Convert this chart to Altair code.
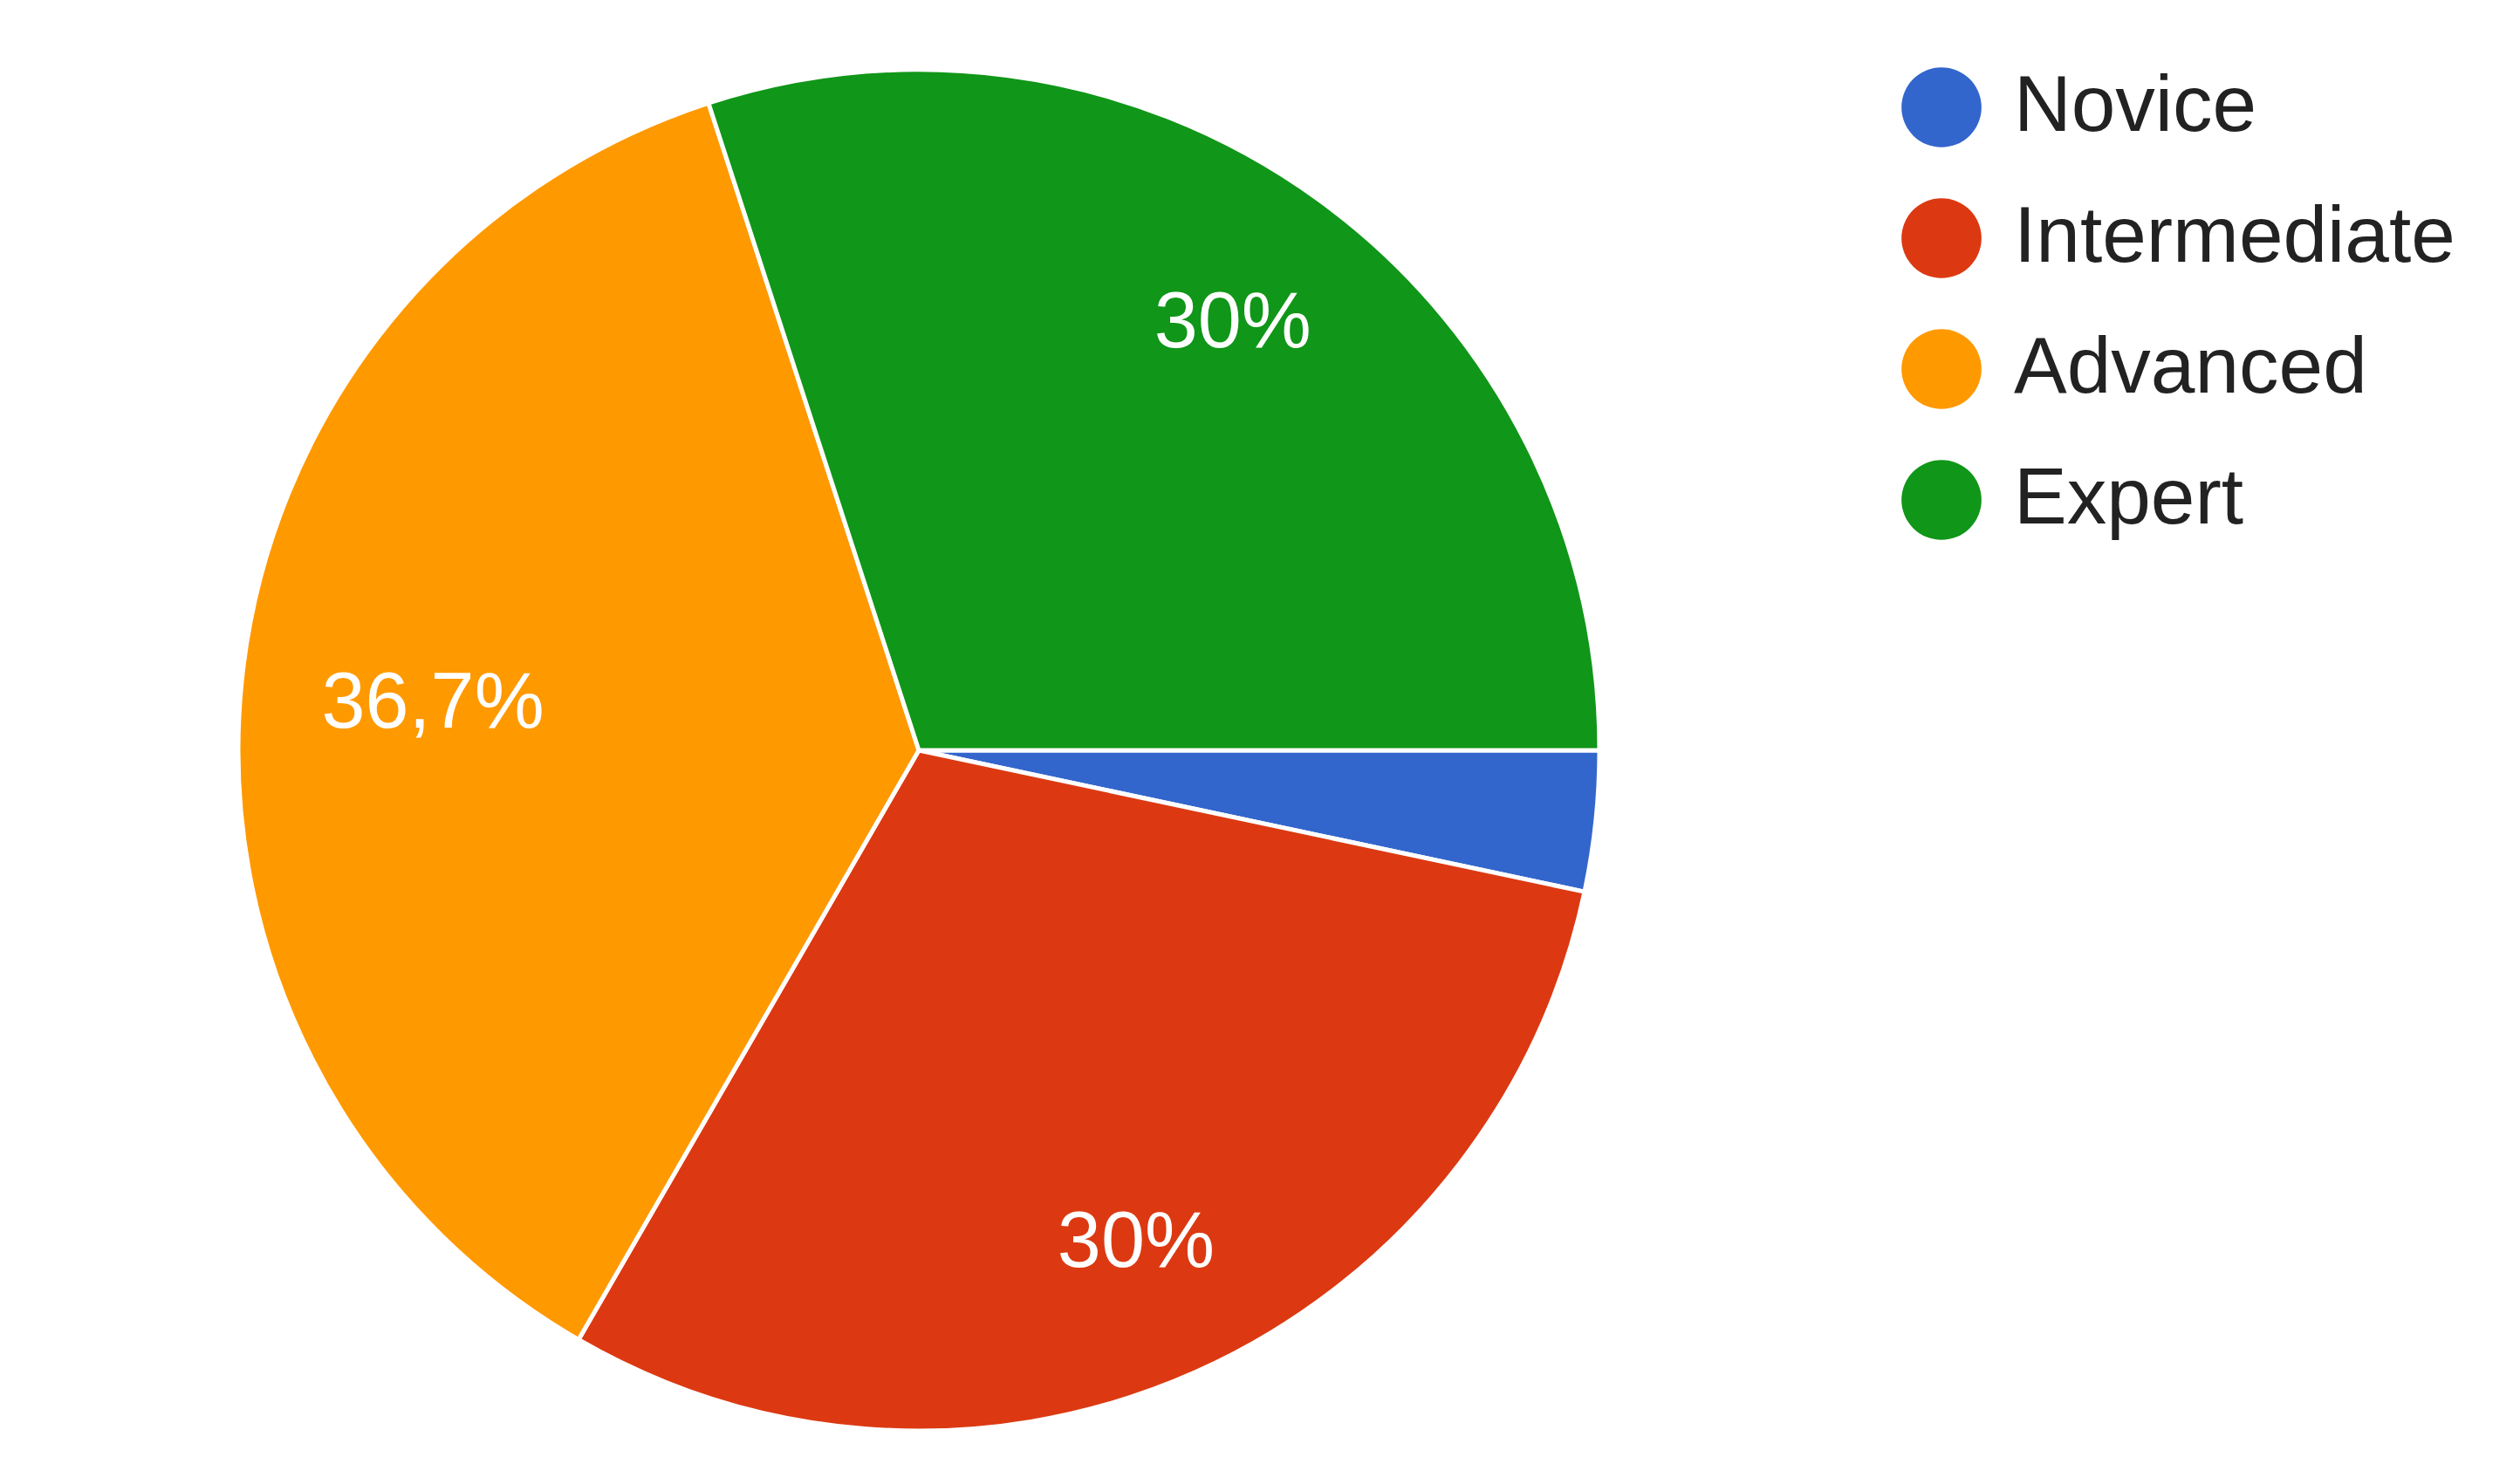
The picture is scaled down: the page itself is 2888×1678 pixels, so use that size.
import altair as alt
import pandas as pd
import math

categories = ["Novice", "Intermediate", "Advanced", "Expert"]
values = [1, 9, 11, 9]
labels = ["", "30%", "36,7%", "30%"]
colors = ["#3366cc", "#dc3912", "#ff9900", "#109618"]

df = pd.DataFrame({
    "level": categories,
    "count": values,
    "label": labels,
    "order": list(range(len(categories))),
})

total = sum(values)
cx, cy = 1053, 860
theta_range = [math.pi / 2, math.pi / 2 + 2 * math.pi]

base = alt.Chart(df).transform_stack(
    stack="count", groupby=[], as_=["s0", "s1"],
    sort=[alt.SortField("order", order="ascending")],
).transform_calculate(
    mid="(datum.s0 + datum.s1) / 2",
    lr="datum.level == 'Advanced' ? 560 : 612",
)

pie = base.mark_arc(outerRadius=780, stroke="white", strokeWidth=5).encode(
    theta=alt.Theta("s0:Q", stack=None,
                    scale=alt.Scale(domain=[0, total], range=theta_range)),
    theta2="s1:Q",
    x=alt.value(cx),
    y=alt.value(cy),
    color=alt.Color(
        "level:N",
        scale=alt.Scale(domain=categories, range=colors),
        sort=categories,
        legend=alt.Legend(
            title=None,
            orient="none",
            legendX=2179,
            legendY=77,
            symbolType="circle",
            symbolSize=8400,
            symbolStrokeWidth=0,
            labelFontSize=91,
            labelFont="Liberation Sans",
            labelColor="#222222",
            labelOffset=37,
            rowPadding=58,
            padding=0,
            labelLimit=1000,
        ),
    ),
)

text = base.mark_text(
    fontSize=90, font="Liberation Sans", color="white",
    align="center", baseline="middle", dy=6,
).encode(
    theta=alt.Theta("mid:Q", stack=None,
                    scale=alt.Scale(domain=[0, total], range=theta_range)),
    radius=alt.Radius("lr:Q", scale=None),
    x=alt.value(cx),
    y=alt.value(cy),
    text="label:N",
)

chart = (pie + text).properties(
    width=2888, height=1678,
    padding=0,
    autosize=alt.AutoSizeParams(type="none"),
).configure_view(stroke=None)

chart.save("out.html", embed_options={"renderer": "svg", "actions": False})
